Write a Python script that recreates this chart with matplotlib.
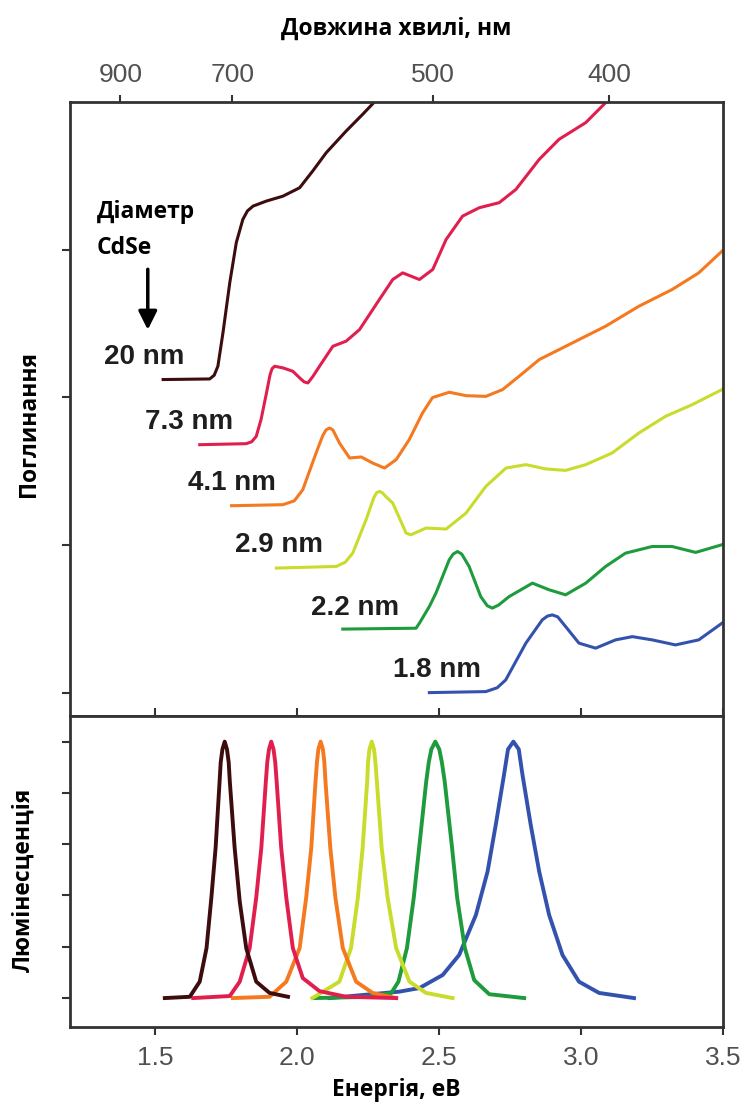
import numpy as np
import matplotlib.pyplot as plt

plt.rcParams['font.family'] = ['Liberation Sans', 'DejaVu Sans']

# діаметри і кольори
sizes = ['20 nm', '7.3 nm', '4.1 nm', '2.9 nm', '2.2 nm', '1.8 nm']
colors = ['#3d0c0f', '#e01f4f', '#f5791f', '#c9dc2c', '#1e9b3c', '#3352ad']

# спектри поглинання (енергія, еВ / відносне поглинання)
abs_e_20 = [1.528, 1.692, 1.708, 1.721, 1.739, 1.763, 1.786, 1.809, 1.825, 1.845,
            1.892, 1.950, 2.009, 2.055, 2.103, 2.173, 2.231, 2.272]
abs_y_20 = [2.121, 2.125, 2.150, 2.211, 2.439, 2.778, 3.049, 3.205, 3.262, 3.295,
            3.329, 3.362, 3.419, 3.532, 3.657, 3.803, 3.916, 3.999]

abs_e_73 = [1.657, 1.821, 1.840, 1.856, 1.873, 1.891, 1.905, 1.912, 1.921, 1.950,
            1.985, 2.012, 2.025, 2.038, 2.055, 2.079, 2.126, 2.173, 2.220, 2.290,
            2.337, 2.372, 2.431, 2.478, 2.525, 2.583, 2.642, 2.712, 2.771, 2.853,
            2.923, 3.017, 3.087]
abs_y_73 = [1.680, 1.687, 1.700, 1.736, 1.850, 2.019, 2.155, 2.195, 2.211, 2.200,
            2.177, 2.127, 2.105, 2.098, 2.140, 2.211, 2.346, 2.381, 2.459, 2.663,
            2.798, 2.843, 2.798, 2.866, 3.069, 3.227, 3.284, 3.318, 3.408, 3.611,
            3.747, 3.860, 3.995]

abs_e_41 = [1.769, 1.950, 1.990, 2.020, 2.067, 2.090, 2.102, 2.114, 2.126, 2.138,
            2.149, 2.185, 2.226, 2.266, 2.308, 2.349, 2.395, 2.442, 2.477, 2.536,
            2.595, 2.665, 2.724, 2.782, 2.853, 2.970, 3.087, 3.204, 3.321, 3.415,
            3.497]
abs_y_41 = [1.267, 1.274, 1.300, 1.375, 1.624, 1.740, 1.780, 1.793, 1.780, 1.735,
            1.692, 1.590, 1.597, 1.556, 1.522, 1.579, 1.714, 1.895, 1.999, 2.035,
            2.012, 2.007, 2.053, 2.143, 2.256, 2.369, 2.482, 2.617, 2.730, 2.843,
            2.990]

abs_e_29 = [1.927, 2.138, 2.170, 2.196, 2.243, 2.270, 2.280, 2.290, 2.300, 2.312,
            2.337, 2.384, 2.401, 2.454, 2.525, 2.595, 2.665, 2.736, 2.806, 2.876,
            2.946, 3.017, 3.110, 3.204, 3.298, 3.392, 3.497]
abs_y_29 = [0.845, 0.856, 0.885, 0.946, 1.172, 1.320, 1.355, 1.364, 1.355, 1.330,
            1.285, 1.082, 1.070, 1.116, 1.109, 1.217, 1.398, 1.522, 1.545, 1.516,
            1.506, 1.545, 1.624, 1.759, 1.872, 1.951, 2.053]

abs_e_22 = [2.161, 2.419, 2.431, 2.466, 2.489, 2.536, 2.550, 2.565, 2.580, 2.606,
            2.647, 2.670, 2.688, 2.710, 2.747, 2.829, 2.888, 2.946, 3.017, 3.087,
            3.157, 3.251, 3.321, 3.404, 3.497]
abs_y_22 = [0.432, 0.438, 0.472, 0.585, 0.675, 0.901, 0.940, 0.957, 0.940, 0.856,
            0.652, 0.590, 0.574, 0.595, 0.652, 0.743, 0.698, 0.664, 0.743, 0.856,
            0.946, 0.991, 0.991, 0.951, 1.003]

abs_e_18 = [2.466, 2.665, 2.705, 2.735, 2.806, 2.864, 2.882, 2.899, 2.918, 2.946,
            2.993, 3.052, 3.122, 3.181, 3.251, 3.333, 3.415, 3.497]
abs_y_18 = [0.002, 0.009, 0.035, 0.088, 0.337, 0.495, 0.520, 0.528, 0.515, 0.449,
            0.337, 0.303, 0.359, 0.381, 0.359, 0.325, 0.359, 0.472]

# спектри люмінесценції (нормовані)
pl_e_20 = [1.534, 1.622, 1.657, 1.681, 1.698, 1.713, 1.727, 1.731, 1.737, 1.745,
           1.753, 1.759, 1.763, 1.780, 1.798, 1.821, 1.856, 1.903, 1.968]
pl_y_20 = [0.0, 0.005, 0.064, 0.195, 0.391, 0.586, 0.845, 0.92, 0.97, 1.0,
           0.97, 0.92, 0.845, 0.586, 0.376, 0.194, 0.064, 0.020, 0.005]

pl_e_73 = [1.634, 1.763, 1.798, 1.833, 1.856, 1.874, 1.890, 1.895, 1.901, 1.909,
           1.917, 1.923, 1.928, 1.944, 1.962, 1.985, 2.020, 2.079, 2.173, 2.349]
pl_y_73 = [0.0, 0.008, 0.064, 0.195, 0.391, 0.586, 0.845, 0.92, 0.97, 1.0,
           0.97, 0.92, 0.845, 0.586, 0.391, 0.195, 0.078, 0.027, 0.005, 0.0]

pl_e_41 = [1.774, 1.903, 1.962, 2.009, 2.032, 2.050, 2.065, 2.070, 2.075, 2.083,
           2.091, 2.096, 2.100, 2.117, 2.135, 2.161, 2.208, 2.266, 2.349]
pl_y_41 = [0.0, 0.005, 0.064, 0.195, 0.391, 0.586, 0.845, 0.92, 0.97, 1.0,
           0.97, 0.92, 0.845, 0.586, 0.391, 0.195, 0.064, 0.020, 0.0]

pl_e_29 = [2.054, 2.149, 2.190, 2.214, 2.231, 2.247, 2.250, 2.255, 2.263, 2.271,
           2.276, 2.281, 2.298, 2.319, 2.349, 2.396, 2.454, 2.548]
pl_y_29 = [0.0, 0.064, 0.195, 0.391, 0.586, 0.845, 0.92, 0.97, 1.0, 0.97,
           0.92, 0.845, 0.586, 0.391, 0.195, 0.064, 0.020, 0.0]

pl_e_22 = [2.061, 2.265, 2.332, 2.357, 2.387, 2.411, 2.430, 2.455, 2.464, 2.473,
           2.487, 2.501, 2.510, 2.520, 2.546, 2.564, 2.591, 2.624, 2.677, 2.800]
pl_y_22 = [0.0, 0.005, 0.020, 0.064, 0.195, 0.391, 0.586, 0.845, 0.92, 0.97,
           1.0, 0.97, 0.92, 0.845, 0.586, 0.391, 0.195, 0.070, 0.015, 0.0]

pl_e_18 = [2.114, 2.360, 2.431, 2.513, 2.571, 2.630, 2.671, 2.700, 2.729, 2.743,
           2.762, 2.781, 2.794, 2.823, 2.853, 2.888, 2.935, 2.993, 3.064, 3.187]
pl_y_18 = [0.0, 0.025, 0.039, 0.090, 0.168, 0.324, 0.493, 0.676, 0.871, 0.97,
           1.0, 0.97, 0.871, 0.676, 0.493, 0.324, 0.168, 0.064, 0.020, 0.0]

abs_e = [abs_e_20, abs_e_73, abs_e_41, abs_e_29, abs_e_22, abs_e_18]
abs_y = [abs_y_20, abs_y_73, abs_y_41, abs_y_29, abs_y_22, abs_y_18]
pl_e = [pl_e_20, pl_e_73, pl_e_41, pl_e_29, pl_e_22, pl_e_18]
pl_y = [pl_y_20, pl_y_73, pl_y_41, pl_y_29, pl_y_22, pl_y_18]

# підписи діаметрів (права межа тексту, висота)
label_e = [1.604, 1.773, 1.927, 2.091, 2.360, 2.648]
label_y = [2.276, 1.836, 1.421, 1.003, 0.576, 0.156]

wl_ticks = [900, 700, 500, 400]
ev_ticks = [1.5, 2.0, 2.5, 3.0, 3.5]

fig = plt.figure(figsize=(7.47, 11.09), dpi=100)
ax1 = fig.add_axes([0.0937, 0.3544, 0.874, 0.5537])
ax2 = fig.add_axes([0.0937, 0.0739, 0.874, 0.2805])

for i in range(len(sizes)):
    ax1.plot(abs_e[i], abs_y[i], color=colors[i], lw=2.2, solid_joinstyle='round')
    ax1.text(label_e[i], label_y[i], sizes[i], ha='right', va='center',
             fontsize=20, fontweight='bold', color='#1e1e1e')

for i in reversed(range(len(sizes))):
    ax2.plot(pl_e[i], pl_y[i], color=colors[i], lw=2.8, solid_joinstyle='round')

ax1.text(1.295, 3.252, 'Діаметр', fontsize=16.5, fontweight='bold',
         family=['Open Sans', 'DejaVu Sans'], va='center', ha='left')
ax1.text(1.295, 3.012, 'CdSe', fontsize=16.5, fontweight='bold',
         family=['Open Sans', 'DejaVu Sans'], va='center', ha='left')
ax1.annotate('', xy=(1.474, 2.439), xytext=(1.474, 2.886),
             arrowprops=dict(arrowstyle='-|>', lw=2.5, color='black', mutation_scale=28))

for ax in (ax1, ax2):
    ax.set_xlim(1.2, 3.5)
    for s in ax.spines.values():
        s.set_linewidth(2)
        s.set_color('#333333')
    ax.tick_params(axis='y', direction='out', length=6, width=1.5, color='#333333',
                   labelleft=False)

ax1.set_ylim(-0.156, 4.0)
ax1.set_yticks([0, 1, 2, 3])
ax1.set_xticks([])

sec = ax1.secondary_xaxis('top', functions=(lambda x: 1239.84 / np.asarray(x, float),
                                            lambda x: 1239.84 / np.asarray(x, float)))
sec.set_xticks(wl_ticks)
sec.set_xticklabels([str(w) for w in wl_ticks])
sec.tick_params(direction='out', length=5, width=1.5, color='#333333',
                labelsize=19, labelcolor='#505050', pad=6)
sec.spines['top'].set_visible(False)

ax2.set_ylim(-0.113, 1.10)
ax2.set_yticks([0, 0.2, 0.4, 0.6, 0.8, 1.0])
ax2.set_xticks(ev_ticks)
ax2.set_xticklabels(['1.5', '2.0', '2.5', '3.0', '3.5'])
ax2.tick_params(axis='x', which='both', top=True, direction='out', length=6, width=1.5,
                color='#333333', labelsize=19, labelcolor='#505050', pad=8)

lab_font = dict(fontsize=16.5, fontweight='bold', family=['Open Sans', 'DejaVu Sans'])
fig.text(0.531, 0.974, 'Довжина хвилі, нм', ha='center', va='center', **lab_font)
fig.text(0.531, 0.017, 'Енергія, еВ', ha='center', va='center', **lab_font)
fig.text(0.039, 0.618, 'Поглинання', rotation=90, ha='center', va='center', **lab_font)
fig.text(0.031, 0.207, 'Люмінесценція', rotation=90, ha='center', va='center', **lab_font)

fig.savefig('out.png', dpi=100)
